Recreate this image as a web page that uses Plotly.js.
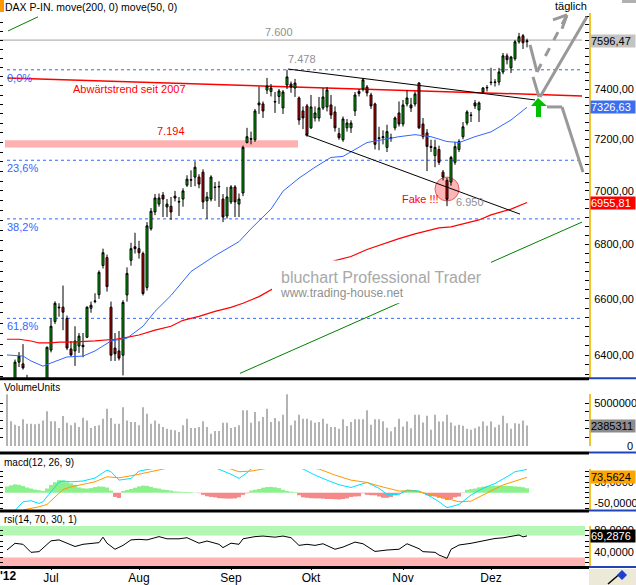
<!DOCTYPE html>
<html><head><meta charset="utf-8">
<script src="https://cdn.plot.ly/plotly-3.0.1.min.js"></script>
<style>html,body{margin:0;padding:0;background:#fff;}#chart{width:636px;height:585px;}</style>
</head><body><div id="chart"></div>
<script>
// ---------- DATA ----------
const firstDay = '2012-06-15';
const monthLabels = ['Jul','Aug','Sep','Okt','Nov','Dez'];
const open = [6170,6200,6290,6376,6370,6300,6240,6130,6150,6200,6200,6418,6519,6570,6570,6530,6422,6415,6432,6435,6463,6566,6590,6615,6721,6750,6570,6425,6415,6400,6614,6740,6790,6783,6765,6641,6857,6920,6950,6984,6939,6942,6973,6960,6969,7022,7041,7053,7053,7072,6962,6969,7015,7015,6969,6905,6958,7015,6950,6992,7187,7203,7198,7336,7340,7396,7390,7350,7370,7324,7416,7420,7404,7364,7312,7332,7245,7284,7284,7324,7328,7336,7308,7222,7198,7245,7245,7312,7382,7400,7408,7376,7340,7206,7206,7168,7206,7245,7304,7260,7340,7336,7340,7424,7260,7225,7172,7136,7160,7072,7040,7034,7110,7160,7210,7264,7296,7344,7316,7388,7404,7428,7426,7428,7469,7535,7486,7523,7593,7618,7593];
const high = [6245,6280,6385,6411,6439,6332,6260,6180,6240,6230,6430,6530,6591,6584,6648,6540,6450,6502,6478,6478,6573,6590,6620,6703,6783,6761,6590,6478,6485,6595,6714,6805,6842,6812,6772,6882,6935,6988,6990,6996,6969,6977,7000,6977,7010,7060,7079,7114,7064,7083,6996,7060,7034,7037,6988,7015,7022,7022,6990,7175,7245,7230,7320,7410,7350,7445,7420,7388,7400,7396,7478,7430,7441,7370,7330,7340,7376,7330,7368,7404,7408,7376,7330,7245,7290,7280,7275,7388,7400,7445,7416,7385,7345,7249,7235,7257,7222,7290,7350,7356,7396,7364,7390,7428,7284,7240,7198,7198,7175,7080,7050,7135,7190,7200,7268,7315,7308,7356,7350,7408,7416,7486,7440,7486,7547,7545,7535,7600,7630,7625,7606];
const low = [6140,6180,6280,6359,6350,6250,6120,6100,6130,6100,6180,6410,6510,6536,6488,6418,6397,6363,6408,6393,6460,6550,6584,6600,6710,6626,6380,6380,6382,6330,6590,6720,6765,6746,6612,6630,6850,6908,6940,6901,6901,6890,6960,6905,6940,7015,7015,7018,7010,6931,6894,6960,6962,6939,6882,6895,6950,6901,6901,6980,7184,7180,7190,7300,7284,7380,7370,7304,7340,7300,7400,7385,7368,7257,7240,7210,7240,7270,7270,7316,7310,7280,7230,7198,7190,7230,7225,7292,7370,7390,7370,7320,7160,7157,7180,7150,7190,7235,7250,7250,7330,7308,7330,7240,7200,7076,7150,7091,7100,7040,6942,7020,7100,7150,7200,7255,7268,7320,7268,7380,7390,7415,7410,7415,7460,7500,7465,7515,7585,7563,7570];
const close = [6229,6248,6376,6397,6356,6263,6132,6136,6228,6149,6428,6502,6584,6568,6552,6425,6401,6450,6467,6430,6570,6577,6592,6696,6768,6644,6400,6405,6390,6587,6692,6783,6783,6768,6619,6868,6923,6973,6973,6969,6950,6920,6980,6958,7000,7045,7043,7091,7026,6958,6977,7053,7013,7017,6901,6977,7015,6958,6969,7168,7210,7200,7312,7344,7312,7412,7404,7348,7392,7388,7449,7408,7424,7276,7284,7218,7328,7304,7324,7368,7396,7296,7245,7206,7280,7264,7264,7376,7390,7437,7384,7332,7180,7203,7210,7230,7203,7284,7260,7336,7364,7324,7380,7245,7210,7172,7168,7168,7110,7053,6968,7129,7171,7191,7249,7308,7294,7332,7344,7404,7406,7426,7428,7469,7535,7519,7530,7593,7614,7589,7596.47];
const volume = [6010000,2870000,2480000,2330000,3100000,2600000,2600000,2520000,2600000,2980000,4030000,2870000,2870000,2090000,3490000,2710000,2400000,2710000,2210000,3290000,2980000,2090000,2330000,2400000,3180000,4340000,3260000,2600000,2600000,4500000,2980000,2790000,2790000,2400000,4500000,3760000,2600000,2980000,2600000,2210000,2020000,1900000,1820000,1630000,2400000,3180000,2090000,2090000,2210000,2870000,2210000,1430000,1740000,1740000,2710000,2710000,2090000,2210000,2400000,4150000,4150000,2710000,3950000,2870000,3370000,4340000,2790000,3260000,2870000,3640000,6010000,2400000,2980000,3640000,3180000,3180000,2980000,2710000,2790000,3180000,2600000,2210000,2210000,2020000,3100000,2330000,2790000,3100000,3100000,3100000,4150000,2480000,3100000,3100000,2870000,2130000,1710000,2210000,3180000,2270000,2850000,2070000,3630000,3630000,2730000,3510000,1880000,3630000,2850000,2850000,3630000,2730000,2350000,2470000,2350000,2000000,1880000,2070000,2270000,2850000,2350000,2850000,2190000,2470000,3510000,2660000,2000000,2660000,2590000,2970000,2385311];
const ma200Idx = [0,3,6,8,11,13,16,22,27,29,33,37,41,44,48,52,56,59,63,66,73,82,86,90,94,98,102,108,111,115,118,121,126,130];
const ma200Val = [6456,6456,6450,6443,6443,6446,6446,6450,6456,6460,6471,6488,6502,6523,6537,6555,6569,6584,6608,6633,6690,6739,6754,6780,6801,6820,6838,6860,6864,6879,6890,6909,6931,6955.81];
const ma50Idx = [0,4,6,9,11,15,19,22,26,30,34,37,41,46,52,58,61,66,69,73,77,81,84,90,98,102,106,110,113,117,121,126,130];
const ma50Val = [6401,6397,6380,6362,6373,6394,6397,6415,6450,6460,6502,6555,6612,6699,6757,6809,6857,6931,6999,7049,7091,7129,7133,7187,7210,7218,7210,7191,7187,7210,7229,7276,7326.63];
const macdIdx = [0,2,4,6,8,9,11,13,14,16,19,22,25,26,28,31,33,35,37,41,45,50,53,56,58,60,61,64,68,72,74,77,80,83,86,90,93,95,98,100,103,106,108,110,113,116,119,122,125,127,130];
const macdVal = [-115,-85,-43,-38,-51,-43,5,50,56,52,56,70,108,100,60,68,103,110,122,138,145,135,113,88,68,95,113,140,150,135,113,84,60,38,25,49,21,-8,-8,13,8,-19,-43,-71,-56,-11,21,44,76,100,111];
const signalIdx = [0,3,5,8,10,12,14,16,18,22,25,28,32,35,38,42,46,50,54,56,58,61,64,68,72,75,78,82,86,90,93,98,102,106,110,113,116,120,124,130];
const signalVal = [-100,-90,-78,-67,-56,-19,15,28,37,52,76,71,84,97,113,125,132,130,120,113,100,103,113,125,128,122,113,84,60,49,32,8,8,-8,-27,-43,-40,-3,37,73.5624];
const macdHist = [30,35,40,38,32,25,20,15,12,8,20,37,50,60,58,50,45,38,25,21,20,22,27,30,29,25,10,-20,-25,8,13,18,24,30,34,33,28,22,20,15,13,10,6,5,4,4,3,1,-2,-10,-17,-20,-22,-26,-27,-28,-28,-27,-22,-10,-3,10,14,18,24,27,28,26,22,14,8,5,3,-12,-22,-24,-26,-27,-27,-28,-30,-30,-31,-32,-30,-27,-20,-18,-17,-3,-10,-12,-12,-18,-24,-24,-20,-12,-5,10,13,13,12,5,2,-12,-16,-18,-24,-28,-35,-30,-22,-18,-2,14,17,20,26,29,30,32,33,34,33,33,32,30,29,26,21];
const rsiIdx = [0,2,4,6,8,9,11,13,15,17,19,23,24,25,27,29,31,33,35,38,40,43,45,48,50,53,54,56,58,59,62,64,67,69,71,73,75,77,79,82,84,87,89,92,95,98,100,103,104,107,108,110,111,113,116,119,122,124,127,128,129,130];
const rsiVal = [43.6,55.8,54,39.4,40.6,46.7,60.3,62,56,50,54,57,67,56,45,52,62,63,62,68,64,64,66,56,60,54,48,56,54,64,68,69,67,69,66,52,54,52,55,45,49,58,55,41,43.6,45,55,46,40.6,39.4,34.5,28.5,44.8,52.7,55.8,60,64.6,65.8,70,71,67.5,69.2876];
const priceTickValues = [6400,6600,6800,7000,7200,7400];
const priceTickLabels = ['6400,00','6600,00','6800,00','7000,00','7200,00','7400,00'];
const fibLevels = [7478,7118,6894,6530];
const fibLabels = ['0,0%','23,6%','38,2%','61,8%'];

// ---------- helpers ----------
const W = 636, H = 585, F = 'Liberation Sans, Arial, sans-serif';
const px = x => x / W, py = y => 1 - y / H;
const lg = v => Math.log10(v);
const N = close.length;
const idx = close.map((_, i) => i);
const dates = [];
{ let d = new Date(firstDay + 'T12:00:00Z'); while (dates.length < N) { const wd = d.getUTCDay(); if (wd !== 0 && wd !== 6) dates.push(d.toISOString().slice(0,10)); d.setUTCDate(d.getUTCDate()+1); } }
const monthTicks = [];
for (let i = 1; i < N; i++) if (dates[i].slice(5,7) !== dates[i-1].slice(5,7)) monthTicks.push(i);

const minorPrice = [], minorPriceText = [];
for (let k = 190; k <= 231; k++) { const v = k * 100 / 3; const r = Math.round(v); const j = priceTickValues.indexOf(r); minorPrice.push(v); minorPriceText.push(j >= 0 && Math.abs(v - r) < 1e-6 ? priceTickLabels[j] : ''); }
const leftPrice = [];
for (let v = 6325; v <= 7700; v += 37.5) leftPrice.push(v);

// ---------- traces ----------
const traces = [
  {type:'candlestick', x: idx, open, high, low, close, xaxis:'x', yaxis:'y', whiskerwidth:0,
   increasing:{line:{color:'#000', width:1}, fillcolor:'#00c000'},
   decreasing:{line:{color:'#000', width:1}, fillcolor:'#e00000'}, hoverinfo:'skip', showlegend:false},
  {type:'scatter', mode:'lines', x: ma200Idx, y: ma200Val, yaxis:'y', line:{color:'#ff0000', width:1.2}, hoverinfo:'skip'},
  {type:'scatter', mode:'lines', x: ma50Idx, y: ma50Val, yaxis:'y', line:{color:'#3366ff', width:1}, hoverinfo:'skip'},
  {type:'bar', x: idx, y: volume, yaxis:'y2', width:0.3, marker:{color:'#808080', line:{width:0}}, hoverinfo:'skip'},
  {type:'bar', x: idx, y: macdHist, yaxis:'y3', width:1, marker:{color: macdHist.map(v => v >= 0 ? '#8cf08c' : '#f58888'), line:{width:0}}, hoverinfo:'skip'},
  {type:'scatter', mode:'lines', x: macdIdx, y: macdVal, yaxis:'y3', line:{color:'#00e0ff', width:1}, hoverinfo:'skip'},
  {type:'scatter', mode:'lines', x: signalIdx, y: signalVal, yaxis:'y3', line:{color:'#ff9900', width:1}, hoverinfo:'skip'},
  {type:'scatter', mode:'lines', x: rsiIdx, y: rsiVal, yaxis:'y4', line:{color:'#000', width:1}, hoverinfo:'skip'}
];
['y5','y6','y7','y8'].forEach((ya, k) => traces.push({type:'scatter', mode:'markers', x:[-100], y:[[7000,1e6,0,50][k]], yaxis:ya, marker:{opacity:0}, hoverinfo:'skip'}));

// ---------- shapes ----------
const shapes = [];
const L = (x0,y0,x1,y1,color,width,extra) => Object.assign({type:'line', xref:'x', yref:'y', x0,y0,x1,y1, line:{color, width}}, extra||{});
shapes.push({type:'rect', xref:'x', yref:'y', x0:-0.5, x1:72.75, y0:7168, y1:7196, fillcolor:'#ffb0b0', line:{width:0}, layer:'below'});
shapes.push({type:'circle', xref:'x', yref:'y', x0:107, x1:113, y0:6962, y1:7053, fillcolor:'rgba(255,120,120,0.55)', line:{color:'#e06060', width:1}, layer:'below'});
fibLevels.forEach(v => shapes.push(L(0, v, 143.75, v, '#3366ff', 1, {line:{color:'#3366ff', width:1, dash:'dot'}, layer:'below'})));
shapes.push(L(-1.75, 7600, 143.75, 7600, '#a0a0a0', 1, {layer:'below'}));
shapes.push(L(0, 7445, 143.75, 7372, '#ff0000', 1.5, {layer:'below'}));
shapes.push({type:'rect', xref:'x', yref:'y4', x0:-1.75, x1:144.5, y0:70, y1:100, fillcolor:'#b4f7b4', line:{width:0}, layer:'below'});
shapes.push({type:'rect', xref:'x', yref:'y4', x0:-1.75, x1:144.5, y0:0, y1:30, fillcolor:'#ffb4b4', line:{width:0}, layer:'below'});
shapes.push(L(70.25, 7481, 132, 7356, '#000', 1));
shapes.push(L(74.5, 7218, 128.25, 6912, '#000', 1));
shapes.push(L(58.25, 6337, 143.75, 6882, '#008000', 1));
shapes.push(L(0.25, 7638, 7.75, 7697, '#008000', 1));
shapes.push({type:'rect', xref:'x', yref:'y', x0:66.25, x1:121, y0:6584, y1:6739, fillcolor:'#ffffff', line:{width:0}});
const G = '#999999';
shapes.push(L(130.75, 7580, 132.5, 7469, G, 3));
shapes.push(L(131.5, 7449, 133, 7368, G, 3));
shapes.push(L(133.25, 7368, 145, 7697, G, 3));
shapes.push(L(132.5, 7469, 140, 7705, G, 3, {line:{color:G, width:3, dash:'dash'}}));
shapes.push(L(136.5, 7684, 140, 7705, G, 3));
shapes.push(L(140, 7705, 138.75, 7647, G, 3));
shapes.push(L(135, 7328, 138.75, 7328, G, 3));
shapes.push(L(138.75, 7328, 144, 7072, G, 3));
shapes.push({type:'path', xref:'x', yref:'y', path:'M132.75,7364 L135,7332 L133.5,7332 L133.5,7288 L132.25,7288 L132.25,7332 L131,7332 Z', fillcolor:'#00c000', line:{width:0}});
[378.7, 453, 511, 567.5].forEach(y => {
  shapes.push({type:'line', xref:'paper', yref:'paper', x0:0, x1:px(589), y0:py(y), y1:py(y), line:{color:'#000', width:3}});
  shapes.push({type:'line', xref:'paper', yref:'paper', x0:px(589), x1:1, y0:py(y-0.5), y1:py(y-0.5), line:{color:'#2244bb', width:2}});
});
shapes.push({type:'rect', xref:'paper', yref:'paper', x0:px(589), x1:1, y0:0, y1:py(569), fillcolor:'#ece9d8', line:{width:0}});
shapes.push({type:'line', xref:'paper', yref:'paper', x0:px(608), x1:px(622), y0:py(584), y1:py(572), line:{color:'#000', width:1.5}});
shapes.push({type:'path', xref:'paper', yref:'paper', path:`M${px(617)},${py(575)} L${px(622)},${py(570)} L${px(627)},${py(575)} L${px(622)},${py(580)} Z`, fillcolor:'#1f3fd0', line:{width:0}});
shapes.push({type:'rect', xref:'paper', yref:'paper', x0:0, x1:px(4), y0:py(12), y1:1, fillcolor:'#ff9900', line:{width:0}});
shapes.push({type:'rect', xref:'paper', yref:'paper', x0:px(622), x1:1, y0:py(3), y1:1, fillcolor:'#b0b0b0', line:{width:0}});

// ---------- annotations ----------
const ann = [];
const T = (x, y, text, o) => Object.assign({xref:'paper', yref:'paper', x:px(x), y:py(y), text, showarrow:false, xanchor:'left', yanchor:'middle', font:{family:F, size:11, color:'#000'}}, o||{});
ann.push(T(3, 7, 'DAX P-IN. move(200, 0) move(50, 0)', {font:{family:F, size:10.5, color:'#000'}}));
ann.push(T(553, 6, 'täglich', {font:{family:F, size:11, color:'#000'}}));
ann.push({xref:'x', yref:'y', x:68, y:lg(7600), yanchor:'bottom', text:'7.600', showarrow:false, font:{family:F, size:11, color:'#909090'}});
ann.push({xref:'x', yref:'y', x:73.75, y:lg(7490), yanchor:'bottom', text:'7.478', showarrow:false, font:{family:F, size:11, color:'#909090'}});
fibLevels.forEach((v, k) => ann.push({xref:'x', yref:'y', x:-0.5, xanchor:'left', y:lg(v), yanchor:'top', text:fibLabels[k], showarrow:false, font:{family:F, size:11, color:'#3366ff'}}));
ann.push(T(71, 89, 'Abwärtstrend seit 2007', {font:{family:F, size:11, color:'#ff0000'}}));
ann.push({xref:'x', yref:'y', x:41, y:lg(7200), yanchor:'bottom', text:'7.194', showarrow:false, font:{family:F, size:11, color:'#ff0000'}});
ann.push(T(400, 199, 'Fake !!!', {font:{family:F, size:11, color:'#ff0000'}}));
ann.push(T(454, 202, '6.950', {font:{family:F, size:11, color:'#909090'}}));
ann.push(T(279, 277, 'bluchart Professional Trader', {font:{family:F, size:16, color:'#a8a8a8'}}));
ann.push(T(278, 293, 'www.trading-house.net', {font:{family:F, size:12, color:'#909090'}}));
ann.push(T(2, 387, 'VolumeUnits', {font:{family:F, size:10, color:'#000'}}));
ann.push(T(2, 462, 'macd(12, 26, 9)', {font:{family:F, size:10, color:'#000'}}));
ann.push(T(2, 519, 'rsi(14, 70, 30, 1)', {font:{family:F, size:10, color:'#000'}}));
ann.push(T(-2, 576, "<b>'12</b>", {font:{family:F, size:12, color:'#000'}}));
ann.push({xref:'paper', x:px(635), xanchor:'right', yref:'y2', y:0, yanchor:'middle', text:'0', showarrow:false, font:{family:F, size:11, color:'#000'}});
const box = (text, yref, y, bg, fg) => ({xref:'paper', x:px(590), xanchor:'left', yref, y, yanchor:'middle', text, showarrow:false, bgcolor:bg, borderpad:0, width:44, align:'left', font:{family:F, size:11, color:fg}});
const fmt = (v, d) => v.toFixed(d).replace('.', ',');
ann.push(box(fmt(close[N-1], 2), 'y', lg(close[N-1]), '#c4c4c4', '#000'));
ann.push(box(fmt(ma50Val[ma50Val.length-1], 2), 'y', lg(ma50Val[ma50Val.length-1]), '#3a70f0', '#fff'));
ann.push(box(fmt(ma200Val[ma200Val.length-1], 2), 'y', lg(ma200Val[ma200Val.length-1]), '#ff0000', '#fff'));
ann.push(box(String(volume[N-1]), 'y2', volume[N-1], '#8c8c8c', '#000'));
ann.push(box(fmt(signalVal[signalVal.length-1], 4), 'y3', signalVal[signalVal.length-1], '#ffa500', '#000'));
ann.push(box(fmt(rsiVal[rsiVal.length-1], 4), 'y4', rsiVal[rsiVal.length-1], '#000', '#fff'));

// ---------- axes ----------
const yCommon = {side:'right', anchor:'x', ticks:'inside', ticklen:4, tickcolor:'#000', showline:true, linecolor:'#f2c230', linewidth:2,
  showgrid:false, zeroline:false, tickfont:{family:F, size:11, color:'#000'}, ticklabelstandoff:1, fixedrange:true};
const yLeft = {side:'left', anchor:'x', ticks:'inside', ticklen:3, tickcolor:'#000', showline:false, showgrid:false, zeroline:false, showticklabels:false, fixedrange:true};
const dMain = [py(378), py(13)], dVol = [py(446), py(394)], dMacd = [py(511), py(469)], dRsi = [py(567), py(526)];
const rMain = [3.80079, 3.88723], rVol = [0, 6.05e6], rMacd = [-87, 113], rRsi = [12.7, 87.3];
const layout = {
  width:W, height:H, margin:{l:0, r:0, t:0, b:0}, paper_bgcolor:'#fff', plot_bgcolor:'#fff', showlegend:false, barmode:'overlay',
  xaxis:{domain:[0, px(589)], range:[-1.75, 145.5], anchor:'y4', tickvals: monthTicks, ticktext: monthLabels, ticks:'outside', ticklen:2, tickcolor:'#000',
    ticklabelstandoff:-2, tickfont:{family:F, size:12, color:'#000'}, showgrid:false, zeroline:false, showline:false, fixedrange:true, rangeslider:{visible:false}},
  yaxis: Object.assign({}, yCommon, {domain:dMain, type:'log', range:rMain, tickvals: minorPrice, ticktext: minorPriceText}),
  yaxis2: Object.assign({}, yCommon, {domain:dVol, range:rVol, tickvals:[0,1e6,2e6,3e6,4e6,5e6,6e6], ticktext:['','','','','','5000000','']}),
  yaxis3: Object.assign({}, yCommon, {domain:dMacd, range:rMacd, tickvals:[-75,-50,-25,0,25,50,75,100], ticktext:['','-50,0000','','','','50,0000','','']}),
  yaxis4: Object.assign({}, yCommon, {domain:dRsi, range:rRsi, tickvals:[20,30,40,50,60,70,80], ticktext:['','','40,0000','','','','80,0000']}),
  yaxis5: Object.assign({}, yLeft, {overlaying:'y', type:'log', range:rMain, tickvals:leftPrice}),
  yaxis6: Object.assign({}, yLeft, {overlaying:'y2', range:rVol, tickvals:[0,1e6,2e6,3e6,4e6,5e6,6e6]}),
  yaxis7: Object.assign({}, yLeft, {overlaying:'y3', range:rMacd, tickvals:[-75,-50,-25,0,25,50,75,100]}),
  yaxis8: Object.assign({}, yLeft, {overlaying:'y4', range:rRsi, tickvals:[20,30,40,50,60,70,80]}),
  shapes, annotations: ann
};
Plotly.newPlot('chart', traces, layout, {staticPlot:true, displayModeBar:false});
</script></body></html>
